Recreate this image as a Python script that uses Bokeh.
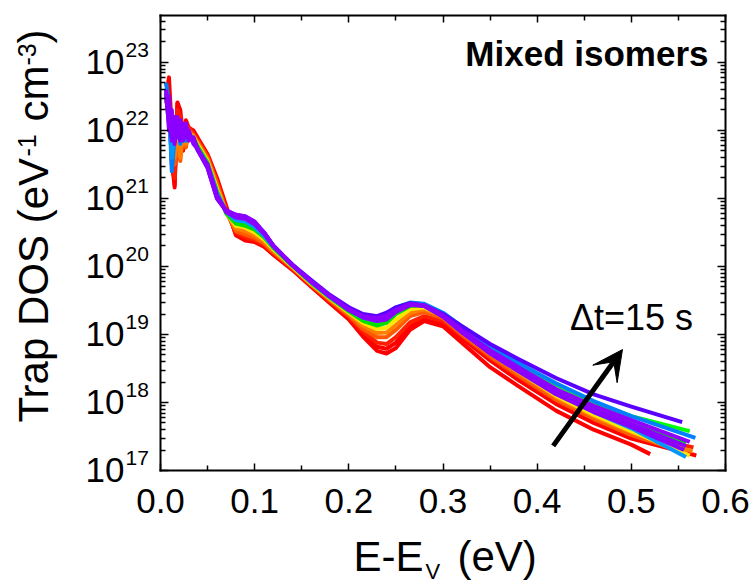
import math
from bokeh.plotting import figure
from bokeh.models import (Range1d, FixedTicker, LinearAxis, LogAxis, Label, Arrow,
                          VeeHead, NumeralTickFormatter, CustomJSTickFormatter)
from bokeh.embed import file_html
from bokeh.resources import INLINE

# ---------------- data ----------------
E_GRID = [0.006, 0.009, 0.012, 0.015, 0.018, 0.021, 0.024, 0.027, 0.030, 0.035,
          0.040, 0.050, 0.060, 0.070, 0.080, 0.090, 0.100, 0.110, 0.120, 0.140,
          0.160, 0.180, 0.200, 0.215, 0.230, 0.240, 0.250, 0.265, 0.280, 0.300,
          0.320, 0.350, 0.380, 0.420, 0.460, 0.500]

DOS_RED_1 = [3.16e22, 6.03e22, 1.0e22, 1.45e21, 2.57e22, 2.0e22, 7.94e21, 1.41e22, 1.1e22, 1.0e22,
             7.59e21, 4.47e21, 2.0e21, 7.59e20, 2.88e20, 2.4e20, 2.29e20, 1.95e20, 1.48e20, 8.91e19,
             5.01e19, 2.88e19, 1.66e19, 9.33e18, 5.75e18, 5.25e18, 6.31e18, 1.17e19, 1.58e19, 1.32e19,
             7.59e18, 3.31e18, 1.74e18, 7.59e17, 3.98e17, 2.4e17, 1.74e17]
DOS_RED_2 = [5.01e22, 3.16e22, 3.16e21, 1.58e21, 2.51e22, 1.26e22, 5.01e21, 1.26e22, 1.0e22, 8.91e21,
             7.24e21, 4.27e21, 1.86e21, 7.08e20, 3.02e20, 2.51e20, 2.34e20, 2.0e20, 1.51e20, 9.12e19,
             5.13e19, 3.02e19, 1.74e19, 1.0e19, 6.61e18, 6.17e18, 7.59e18, 1.32e19, 1.74e19, 1.48e19,
             8.91e18, 4.17e18, 2.14e18, 9.55e17, 5.01e17, 2.95e17, 1.66e17]
DOS_RED_3 = [3.98e22, 2.51e22, 3.98e21, 2.0e21, 2.0e22, 1.58e22, 6.31e21, 1.12e22, 1.12e22, 8.91e21,
             7.08e21, 4.17e21, 1.78e21, 6.61e20, 3.16e20, 2.69e20, 2.45e20, 2.09e20, 1.58e20, 9.33e19,
             5.25e19, 3.09e19, 1.82e19, 1.1e19, 7.59e18, 7.24e18, 9.12e18, 1.51e19, 1.86e19, 1.58e19,
             9.55e18, 4.57e18, 2.4e18, 1.07e18, 5.75e17, 3.47e17, 2.19e17]
DOS_ORANGE_1 = [3.16e22, 2.0e22, 7.94e21, 3.16e21, 7.08e21, 3.55e21, 1.0e22, 5.62e21, 1.0e22, 8.51e21,
                6.61e21, 3.98e21, 1.66e21, 6.31e20, 3.31e20, 2.95e20, 2.63e20, 2.19e20, 1.62e20, 9.55e19,
                5.37e19, 3.16e19, 1.91e19, 1.2e19, 9.12e18, 9.12e18, 1.17e19, 1.86e19, 2.14e19, 1.74e19,
                1.0e19, 4.79e18, 2.51e18, 1.1e18, 5.75e17, 3.31e17, 1.78e17]
DOS_ORANGE_2 = [2.82e22, 1.58e22, 6.31e21, 3.98e21, 1.0e22, 3.98e21, 8.91e21, 6.31e21, 9.55e21, 8.32e21,
                6.31e21, 3.72e21, 1.51e21, 6.03e20, 3.63e20, 3.31e20, 2.88e20, 2.34e20, 1.7e20, 9.77e19,
                5.5e19, 3.31e19, 2.0e19, 1.35e19, 1.05e19, 1.07e19, 1.38e19, 2.09e19, 2.34e19, 1.86e19,
                1.07e19, 5.25e18, 2.75e18, 1.2e18, 6.31e17, 3.63e17, 1.91e17]
DOS_YELLOW = [3.16e22, 2.24e22, 5.01e21, 1.0e22, 1.12e22, 6.31e21, 8.91e21, 7.08e21, 8.91e21, 7.94e21,
              6.03e21, 3.55e21, 1.38e21, 6.03e20, 3.98e20, 3.72e20, 3.16e20, 2.51e20, 1.78e20, 1.0e20,
              5.62e19, 3.39e19, 2.09e19, 1.48e19, 1.2e19, 1.26e19, 1.66e19, 2.34e19, 2.51e19, 1.91e19,
              1.12e19, 5.5e18, 2.88e18, 1.26e18, 6.61e17, 3.8e17, 1.66e17]
DOS_GREEN_1 = [3.55e22, 2.0e22, 6.31e21, 1.26e22, 7.94e21, 1.0e22, 8.91e21, 7.08e21, 8.91e21, 7.59e21,
               5.62e21, 3.31e21, 1.26e21, 6.03e20, 4.37e20, 4.17e20, 3.55e20, 2.75e20, 1.91e20, 1.05e20,
               5.89e19, 3.55e19, 2.24e19, 1.66e19, 1.45e19, 1.58e19, 2.09e19, 2.69e19, 2.75e19, 2.04e19,
               1.26e19, 6.61e18, 3.72e18, 1.82e18, 1.0e18, 6.31e17, 3.8e17]
DOS_GREEN_2 = [3.16e22, 1.58e22, 7.94e21, 1.12e22, 1.0e22, 7.08e21, 1.0e22, 7.94e21, 8.91e21, 7.59e21,
               5.62e21, 3.31e21, 1.26e21, 6.03e20, 4.27e20, 3.98e20, 3.47e20, 2.69e20, 1.86e20, 1.02e20,
               5.75e19, 3.47e19, 2.19e19, 1.58e19, 1.35e19, 1.48e19, 2.0e19, 2.63e19, 2.69e19, 2.0e19,
               1.17e19, 5.89e18, 3.16e18, 1.48e18, 7.94e17, 4.79e17, 2.51e17]
DOS_AZURE_1 = [5.01e22, 2.51e22, 2.51e21, 7.94e21, 1.26e22, 6.31e21, 1.0e22, 7.08e21, 8.91e21, 7.08e21,
               5.25e21, 3.02e21, 1.12e21, 6.31e20, 5.01e20, 4.79e20, 3.98e20, 2.95e20, 2.0e20, 1.05e20,
               6.03e19, 3.63e19, 2.34e19, 1.86e19, 1.74e19, 2.0e19, 2.51e19, 2.95e19, 2.82e19, 2.09e19,
               1.32e19, 6.92e18, 3.8e18, 1.91e18, 1.05e18, 6.31e17, 3.02e17]
DOS_AZURE_2 = [3.98e22, 1.58e22, 3.98e21, 1.0e22, 8.91e21, 1.26e22, 7.08e21, 8.91e21, 7.94e21, 7.08e21,
               5.25e21, 3.16e21, 1.2e21, 6.31e20, 4.79e20, 4.57e20, 3.8e20, 2.82e20, 1.95e20, 1.05e20,
               5.89e19, 3.55e19, 2.29e19, 1.78e19, 1.58e19, 1.78e19, 2.29e19, 2.82e19, 2.75e19, 2.0e19,
               1.2e19, 5.89e18, 3.16e18, 1.38e18, 7.24e17, 4.17e17, 1.58e17]
DOS_BLUEVIOLET = [3.16e22, 1.26e22, 7.94e21, 1.41e22, 8.91e21, 1.12e22, 7.94e21, 1.0e22, 7.94e21, 7.08e21,
                  5.01e21, 2.82e21, 1.0e21, 6.61e20, 5.75e20, 5.37e20, 4.47e20, 3.16e20, 2.0e20, 1.07e20,
                  6.31e19, 3.8e19, 2.51e19, 2.0e19, 1.86e19, 2.09e19, 2.51e19, 2.88e19, 2.69e19, 2.0e19,
                  1.32e19, 7.24e18, 4.37e18, 2.29e18, 1.32e18, 8.71e17, 5.13e17]
DOS_PURPLE_1 = [3.98e22, 1.0e22, 2.0e22, 6.31e21, 1.58e22, 8.91e21, 7.94e21, 1.26e22, 7.08e21, 7.94e21,
                5.01e21, 3.16e21, 1.12e21, 6.31e20, 5.25e20, 5.01e20, 4.17e20, 3.02e20, 2.0e20, 1.05e20,
                6.03e19, 3.63e19, 2.29e19, 1.78e19, 1.58e19, 1.66e19, 2.14e19, 2.69e19, 2.69e19, 1.91e19,
                1.15e19, 5.89e18, 3.31e18, 1.58e18, 8.91e17, 5.5e17, 2.63e17]
DOS_PURPLE_2 = [2.51e22, 3.16e22, 7.08e21, 1.26e22, 1.0e22, 7.08e21, 1.26e22, 7.94e21, 1.0e22, 6.31e21,
                5.25e21, 2.95e21, 1.05e21, 6.31e20, 5.5e20, 5.25e20, 4.37e20, 3.09e20, 2.0e20, 1.05e20,
                6.03e19, 3.63e19, 2.34e19, 1.82e19, 1.66e19, 1.78e19, 2.24e19, 2.82e19, 2.63e19, 1.82e19,
                1.07e19, 5.25e18, 2.88e18, 1.32e18, 7.24e17, 4.37e17, 2.0e17]
DOS_PURPLE_3 = [3.55e22, 1.58e22, 8.91e21, 1.58e22, 7.94e21, 1.41e22, 7.08e21, 1.12e22, 8.91e21, 7.08e21,
                5.01e21, 2.82e21, 1.0e21, 6.61e20, 5.75e20, 5.5e20, 4.57e20, 3.16e20, 2.0e20, 1.05e20,
                6.03e19, 3.63e19, 2.34e19, 1.86e19, 1.74e19, 1.91e19, 2.29e19, 2.75e19, 2.63e19, 1.86e19,
                1.12e19, 5.5e18, 3.02e18, 1.38e18, 7.76e17, 4.79e17, 2.29e17]

# last energy point of each curve (curves stop at slightly different energies)
E_END = [0.520, 0.569, 0.566, 0.560, 0.565, 0.562, 0.562, 0.558, 0.568, 0.558,
         0.554, 0.562, 0.556, 0.558]

SERIES = [DOS_RED_1, DOS_RED_2, DOS_RED_3, DOS_ORANGE_1, DOS_ORANGE_2, DOS_YELLOW,
          DOS_GREEN_1, DOS_GREEN_2, DOS_AZURE_1, DOS_AZURE_2, DOS_BLUEVIOLET,
          DOS_PURPLE_1, DOS_PURPLE_2, DOS_PURPLE_3]
COLORS = ["#FF0000", "#FF0000", "#FF1E00", "#FF5A00", "#FF8000", "#FFE600",
          "#00FF00", "#00E000", "#0080FF", "#0099FF", "#5A00FF",
          "#9000FF", "#8800FF", "#8B00FF"]

X_MIN, X_MAX = 0.0, 0.6
Y_MIN, Y_MAX = 1e17, 4.9e23
X_TICKS = [0.0, 0.1, 0.2, 0.3, 0.4, 0.5, 0.6]
X_MINOR = [0.05, 0.15, 0.25, 0.35, 0.45, 0.55]
Y_EXPONENTS = ["17", "18", "19", "20", "21", "22", "23"]
Y_TICKS = [1e17, 1e18, 1e19, 1e20, 1e21, 1e22, 1e23]
Y_MINOR = [m * t for t in Y_TICKS for m in range(2, 10) if m * t < Y_MAX]

TITLE = "Mixed isomers"
ARROW_TEXT = "\u0394t=15 s"
ARROW_START = (0.417, 2.3e17)
ARROW_END = (0.4906, 6.0e18)

FONT = "Liberation Sans"

# ---------------- layout geometry (pixels) ----------------
W, H = 754, 587
BOX_L, BOX_R, BOX_T, BOX_B = 160, 725, 15, 470
px_per_x = (BOX_R - BOX_L) / (X_MAX - X_MIN)
px_per_dec = (BOX_B - BOX_T) / math.log10(Y_MAX / Y_MIN)
x_lo = X_MIN - BOX_L / px_per_x
x_hi = X_MAX + (W - BOX_R) / px_per_x
y_lo = Y_MIN / 10 ** ((H - BOX_B) / px_per_dec)
y_hi = Y_MAX * 10 ** (BOX_T / px_per_dec)

p = figure(width=W, height=H, x_range=Range1d(x_lo, x_hi), y_range=Range1d(y_lo, y_hi),
           y_axis_type="log", output_backend="svg", toolbar_location=None, title=None,
           min_border_left=0, min_border_right=0, min_border_top=0, min_border_bottom=0)
p.background_fill_color = "white"
p.border_fill_color = "white"
p.outline_line_color = None
p.xgrid.visible = False
p.ygrid.visible = False

blank = CustomJSTickFormatter(code="return ''")

def style_axis(ax, tick_major, tick_minor):
    ax.axis_line_width = 2
    ax.axis_line_cap = "square"
    ax.major_tick_out = 0
    ax.minor_tick_out = 0
    ax.major_tick_in = tick_major
    ax.minor_tick_in = tick_minor
    ax.major_tick_line_width = 1.5
    ax.minor_tick_line_width = 1.5

xa = p.xaxis[0]
xa.ticker = FixedTicker(ticks=X_TICKS, minor_ticks=X_MINOR)
xa.formatter = NumeralTickFormatter(format="0.0")
xa.major_label_text_font = FONT
xa.major_label_text_font_size = "35px"
xa.major_label_text_color = "black"
xa.major_label_standoff = 18
xa.fixed_location = Y_MIN
xa.bounds = (X_MIN, X_MAX)
style_axis(xa, 7, 5)

ya = p.yaxis[0]
ya.ticker = FixedTicker(ticks=Y_TICKS, minor_ticks=Y_MINOR)
ya.formatter = blank
ya.fixed_location = X_MIN
ya.bounds = (Y_MIN, Y_MAX)
style_axis(ya, 8, 5)

top = LinearAxis(ticker=FixedTicker(ticks=X_TICKS, minor_ticks=X_MINOR), formatter=blank,
                 fixed_location=Y_MAX, bounds=(X_MIN, X_MAX))
style_axis(top, 7, 5)
right = LogAxis(ticker=FixedTicker(ticks=Y_TICKS, minor_ticks=Y_MINOR), formatter=blank,
                fixed_location=X_MAX, bounds=(Y_MIN, Y_MAX))
style_axis(right, 8, 5)
p.add_layout(top, "above")
p.add_layout(right, "right")

# ---------------- curves ----------------
for dos, col, e_end in zip(SERIES, COLORS, E_END):
    p.line(E_GRID + [e_end], dos, line_color=col, line_width=4, line_join="round")

# ---------------- arrow and texts ----------------
p.add_layout(Arrow(end=VeeHead(size=30, fill_color="black", line_color="black", line_width=1),
                   x_start=ARROW_START[0], y_start=ARROW_START[1],
                   x_end=ARROW_END[0], y_end=ARROW_END[1],
                   line_width=5, line_color="black"))

BASE_SHIFT = 0.415  # baseline correction (in em) observed for Label rendering

def lab(text, cx, cy, size, align="left", angle=0.0, style="normal", ydata=None, dy=0.0):
    """Place text with its baseline at canvas pixel (cx, cy) (top-left origin)."""
    shift = BASE_SHIFT * size
    if angle == 0.0:
        x, y = cx, H - cy + shift
    else:
        x, y = cx - shift, H - cy
    kw = dict(x=x, x_units="screen", text=text, text_font=FONT,
              text_font_size=f"{size}px", text_align=align, text_baseline="alphabetic",
              text_color="black", angle=angle, text_font_style=style)
    if ydata is not None:
        kw.update(y=ydata, y_units="data", y_offset=dy + shift)
    else:
        kw.update(y=y, y_units="screen")
    p.add_layout(Label(**kw))

lab(TITLE, 708, 68, 35, align="right", style="bold")
lab(ARROW_TEXT, 631, 332, 36, align="center")

# y tick labels: "10" with a superscript exponent
for tick, expo in zip(Y_TICKS, Y_EXPONENTS):
    lab("10", 124, 0, 35, align="right", ydata=tick, dy=-14)
    lab(expo, 125, 0, 21, align="left", ydata=tick, dy=4)

# y axis title (rotated, reads upward) with superscripts
ROT = math.pi / 2
lab("Trap DOS (eV", 50, 422, 42, angle=ROT)
lab("-1", 37, 156, 25, angle=ROT)
lab("cm", 50, 121, 42, angle=ROT)
lab("-3", 37, 65, 25, angle=ROT)
lab(")", 50, 43, 42, angle=ROT)

# x axis title with subscript
lab("E-E", 353, 573, 42)
lab("V", 425, 580, 22)
lab("(eV)", 457, 573, 42)

open("out.html", "w").write(file_html(p, INLINE))
